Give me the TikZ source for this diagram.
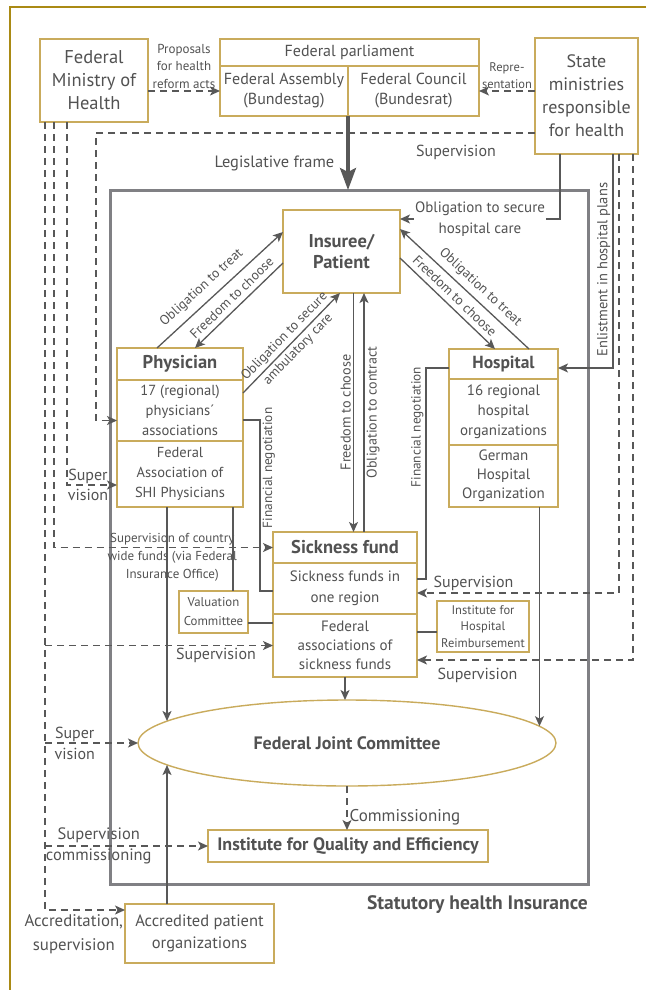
\documentclass[tikz,border=0pt]{standalone}
\usepackage{fontspec}
\setmainfont{PT Sans}
\usetikzlibrary{positioning,arrows.meta,shapes.geometric}
\definecolor{boxgold}{RGB}{201,171,92}
\definecolor{framegold}{RGB}{170,138,20}
\definecolor{txtgray}{RGB}{82,82,82}
\definecolor{linegray}{RGB}{88,88,88}
\definecolor{shigray}{RGB}{128,128,132}
\newcommand\fsz[2]{\fontsize{#1}{#2}\selectfont}

\begin{document}
\begin{tikzpicture}[x=1pt, y=-1pt, node distance=0pt,
  >={Stealth[length=10pt, width=9pt, inset=2.5pt]},
  box/.style={draw=boxgold, line width=1.4pt, fill=white, text=txtgray, align=center, inner sep=1pt, outer sep=0pt, font=\fsz{15}{20}},
  ttl/.style={box, font=\fsz{18.5}{21}\bfseries},
  lbl/.style={text=txtgray, align=center, inner sep=2pt, font=\fsz{16}{21}},
  sml/.style={lbl, font=\fsz{13.5}{17.5}},
  con/.style={draw=linegray, line width=1.3pt},
  sv/.style={con, ->, dash pattern=on 7pt off 5pt}]

\useasboundingbox (0,0) rectangle (646,990);
\draw[framegold, line width=2.5pt] (646,7) -- (10,7) -- (10,990);

\node[draw=shigray, line width=3pt, minimum width=478pt, minimum height=694pt, outer sep=0pt] (shi) at (349,537) {};
\node[lbl, font=\fsz{19.5}{22}\bfseries, anchor=east] (shil) at (590,905) {Statutory health Insurance};

\node[box, minimum width=108pt, minimum height=83pt, font=\fsz{18.5}{23}] (fmh) at (94,80.5) {Federal\\Ministry of\\Health};
\node[box, minimum width=259pt, minimum height=27pt, font=\fsz{16}{20}] (parl) at (349.5,52.5) {Federal parliament};
\node[box, minimum width=128pt, minimum height=50pt, font=\fsz{16}{20}, below right=of parl.south west] (bt) {Federal Assembly\\(Bundestag)};
\node[box, minimum width=131pt, minimum height=50pt, font=\fsz{16}{20}, below left=of parl.south east] (br) {Federal Council\\(Bundesrat)};
\node[box, minimum width=103pt, minimum height=116pt, font=\fsz{18}{23}] (smh) at (586.5,96) {State\\ministries\\responsible\\for health};

\node[ttl, minimum width=117pt, minimum height=83pt] (pat) at (341.5,251.5) {Insuree/\\Patient};

\node[ttl, minimum width=126pt, minimum height=32pt] (phy) at (180,364) {Physician};
\node[box, minimum width=126pt, minimum height=61pt, font=\fsz{14.6}{20}, below=of phy] (phyr) {17 (regional)\\physicians´\\associations};
\node[box, minimum width=126pt, minimum height=66pt, font=\fsz{14.5}{20}, below=of phyr] (phyf) {Federal\\Association of\\SHI Physicians};

\node[ttl, minimum width=109pt, minimum height=30pt, font=\fsz{17.5}{21}\bfseries] (hosp) at (503.5,364) {Hospital};
\node[box, minimum width=109pt, minimum height=66pt, below=of hosp] (hospr) {16 regional\\hospital\\organizations};
\node[box, minimum width=109pt, minimum height=62pt, font=\fsz{15}{19}, below=of hospr] (hospg) {German\\Hospital\\Organization};

\node[ttl, minimum width=144pt, minimum height=31pt, font=\fsz{18.5}{21}\bfseries] (sf) at (345,547.5) {Sickness fund};
\node[box, minimum width=144pt, minimum height=51pt, font=\fsz{15}{21}, below=of sf] (sfr) {Sickness funds in\\one region};
\node[box, minimum width=144pt, minimum height=63pt, font=\fsz{15}{19}, below=of sfr] (sff) {Federal\\associations of\\sickness funds};

\node[box, minimum width=69pt, minimum height=42pt, font=\fsz{12.8}{19}] (val) at (213.5,612) {Valuation\\Committee};
\node[box, minimum width=92pt, minimum height=51pt, font=\fsz{12.5}{16.5}] (ihr) at (483,626.5) {Institute for\\Hospital\\Reimbursement};

\node[box, ellipse, minimum width=418pt, minimum height=86pt, inner sep=0pt, font=\fsz{18}{20}\bfseries] (gba) at (347,743) {Federal Joint Committee};
\node[box, minimum width=280pt, minimum height=32pt, font=\fsz{18}{20}\bfseries] (iqe) at (348,846) {Institute for Quality and Efficiency};
\node[box, minimum width=149pt, minimum height=59pt, font=\fsz{16.5}{22}] (apo) at (199.5,933.5) {Accredited patient\\organizations};

\draw[sv] (fmh.east |- bt.west) -- (bt.west) node[midway, above, sml, font=\fsz{13}{17.5}] {Proposals\\for health\\reform acts};
\draw[sv] (smh.west |- br.east) -- (br.east) node[midway, above, sml, font=\fsz{12.5}{17}] {Repre-\\sentation};
\draw[con, line width=3.5pt, -{Stealth[length=22pt, width=16pt, inset=4pt]}] (bt.south east) -- (bt.south east |- shi.north) node[pos=0.64, left=10pt, lbl, font=\fsz{16.4}{21}] {Legislative frame};

\draw[sv] ([yshift=21pt]smh.south west) -| node[pos=0.09, below=9pt, lbl] {Supervision} ([xshift=-21pt,yshift=-10pt]phyr.west) -- ([yshift=-10pt]phyr.west);
\draw[sv] ([xshift=27pt]fmh.south west) |- node[pos=0.71, lbl, font=\fsz{16}{20}] {Super\\vision} ([yshift=-11pt]phyf.west);
\draw[sv] ([xshift=14pt]fmh.south west) |- node[pos=0.77, yshift=-10pt, sml, font=\fsz{13}{18}] {Supervision of country\\wide funds (via Federal\\Insurance Office)} (sf.west);
\draw[sv] ([xshift=5pt]fmh.south west) |- node[pos=0.68, below=2pt, lbl, font=\fsz{16.8}{24}] {Accreditation,\\supervision} ([yshift=-6pt]apo.north west);
\draw[sv] ([xshift=5pt]fmh.south west |- sff.west) -- (sff.west) node[pos=0.75, below, lbl] {Supervision};
\draw[sv] ([xshift=5pt]fmh.south west |- gba.west) -- (gba.west) node[pos=0.32, lbl, font=\fsz{16}{21}] {Super\\vision};
\draw[sv] ([xshift=5pt]fmh.south west |- iqe.west) -- (iqe.west) node[pos=0.33, lbl, font=\fsz{16.5}{21}] {Supervision\\commissioning};

\draw[con, ->] ([xshift=40pt]phy.north west) -- ([yshift=19.5pt]pat.west) node[pos=0.43, sloped, above=5pt, sml] {Obligation to treat};
\draw[con, <-] ([xshift=78pt]phy.north west) -- ([yshift=-11.5pt]pat.west) node[midway, sloped, above=3pt, sml] {Freedom to choose};
\draw[con, ->] ([yshift=-13pt]phyr.north east) -- ([xshift=-1.5pt]pat.south) node[midway, sloped, sml, font=\fsz{13.5}{19}] {Obligation to secure\\ambulatory care};
\draw[con, <-] ([yshift=22.5pt]pat.east) -- ([xshift=80pt]hosp.north west) node[pos=0.56, sloped, above=3pt, sml] {Obligation to treat};
\draw[con, ->] ([yshift=-6.5pt]pat.east) -- ([xshift=46pt]hosp.north west) node[midway, sloped, above=3pt, sml] {Freedom to choose};

\draw[con, ->] ([xshift=12pt]pat.south) -- ([xshift=12pt]pat.south |- sf.north) node[midway, rotate=90, anchor=south, lbl, font=\fsz{14.2}{18}] {Freedom to choose};
\draw[con, <-] ([xshift=22.5pt]pat.south) -- ([xshift=22.5pt]pat.south |- sf.north) node[midway, rotate=90, anchor=north, lbl, font=\fsz{14}{18}] {Obligation to contract};

\draw[con, ->] ([xshift=25pt]smh.south west) |- node[pos=0.75, fill=white, lbl, inner sep=1pt, font=\fsz{15}{21}] {Obligation to secure\\hospital care} ([yshift=32.5pt]pat.east);
\draw[con, ->] ([xshift=78pt]smh.south west) |- node[pos=0.27, rotate=90, anchor=south, lbl, font=\fsz{14.5}{18}] {Enlistment in hospital plans} ([yshift=-4pt]hosp.east);
\draw[sv] ([xshift=84pt]smh.south west) |- node[pos=0.86, above, lbl] {Supervision} ([yshift=-4.5pt]sfr.east);
\draw[sv] ([xshift=98pt]smh.south west) |- node[pos=0.86, below=5pt, lbl] {Supervision} ([yshift=-14.5pt]sff.east);

\draw[con] ([yshift=-4pt]hosp.west) -| node[pos=0.64, rotate=90, anchor=south, lbl, font=\fsz{13.3}{18}] {Financial negotiation} ([xshift=9pt,yshift=9.5pt]sfr.east) -- ([yshift=9.5pt]sfr.east);
\draw[con] ([yshift=-9.5pt]phyr.east) -| node[pos=0.64, rotate=90, anchor=north, lbl, font=\fsz{13.3}{18}] {Financial negotiation} ([xshift=-13pt,yshift=-2.5pt]sfr.west) -- ([yshift=-2.5pt]sfr.west);

\draw[con] ([xshift=116pt]phyf.south west) -- ([xshift=116pt]phyf.south west |- val.north);
\draw[con] ([yshift=-11pt]val.east) -- ([yshift=-11pt]val.east -| sff.west);
\draw[con] ([yshift=-5.5pt]ihr.west) -- ([yshift=-5.5pt]ihr.west -| sff.east);

\draw[con, ->] ([xshift=50pt]phyf.south west) -- ([xshift=50pt]phyf.south west |- gba.173);
\draw[con, ->] (sff.south) -- (sff.south |- gba.north);
\draw[con, ->] ([xshift=36pt]hospg.south) -- ([xshift=36pt]hospg.south |- gba.5);
\draw[con, ->] ([xshift=-32.5pt]apo.north) -- ([xshift=-32.5pt]apo.north |- gba.187);
\draw[sv] (gba.south) -- (gba.south |- iqe.north) node[pos=0.7, right, lbl, font=\fsz{17}{21}] {Commissioning};
\end{tikzpicture}
\end{document}
